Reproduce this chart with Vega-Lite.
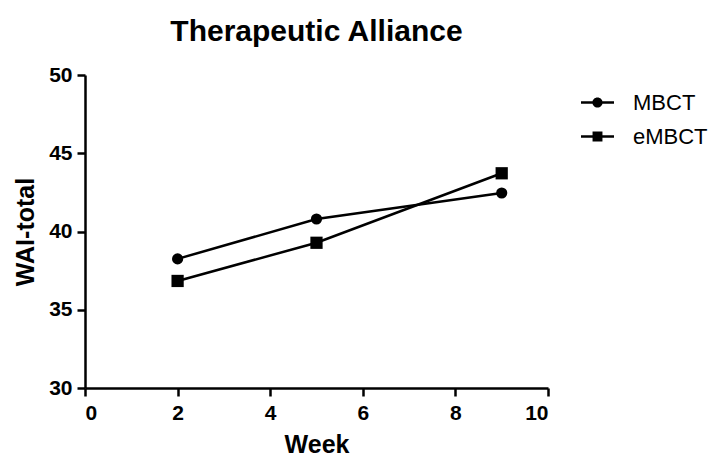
{
  "$schema": "https://vega.github.io/schema/vega-lite/v6.json",
  "autosize": {"type": "none"},
  "padding": {"left": 85, "top": 75, "right": 169, "bottom": 68},
  "width": 463,
  "height": 313,
  "background": "white",
  "title": {"text": "Therapeutic Alliance", "font": "Liberation Sans", "fontSize": 30, "fontWeight": "bold", "color": "black", "anchor": "middle", "offset": 17},
  "data": {"values": [
    {"group": "MBCT", "week": 2, "wai": 38.25},
    {"group": "MBCT", "week": 5, "wai": 40.8},
    {"group": "MBCT", "week": 9, "wai": 42.46},
    {"group": "eMBCT", "week": 2, "wai": 36.84},
    {"group": "eMBCT", "week": 5, "wai": 39.28},
    {"group": "eMBCT", "week": 9, "wai": 43.72}
  ]},
  "config": {
    "view": {"stroke": null},
    "axis": {"grid": false, "domainColor": "black", "domainWidth": 2.5, "tickColor": "black", "tickWidth": 2.5, "tickSize": 8,
      "labelFont": "Liberation Sans", "labelFontSize": 21, "labelFontWeight": "bold", "labelColor": "black",
      "titleFont": "Liberation Sans", "titleFontSize": 25, "titleFontWeight": "bold", "titleColor": "black"}
  },
  "encoding": {
    "x": {"field": "week", "type": "quantitative", "scale": {"domain": [0, 10], "nice": false}, "axis": {"title": "Week", "values": [0, 2, 4, 6, 8, 10], "labelPadding": 6, "titlePadding": 9}},
    "y": {"field": "wai", "type": "quantitative", "scale": {"domain": [30, 50], "nice": false, "zero": false}, "axis": {"title": "WAI-total", "values": [30, 35, 40, 45, 50], "labelPadding": 5, "titlePadding": 10}}
  },
  "resolve": {"scale": {"shape": "independent"}, "legend": {"shape": "independent"}},
  "layer": [
    {"mark": {"type": "line", "color": "black", "strokeWidth": 2.5}, "encoding": {"detail": {"field": "group"}}},
    {"mark": {"type": "point", "filled": true, "color": "black", "opacity": 1},
     "encoding": {
       "shape": {"field": "group", "type": "nominal", "scale": {"domain": ["MBCT", "eMBCT"], "range": ["circle", "square"]}, "legend": null},
       "size": {"condition": {"test": "datum.group === 'MBCT'", "value": 125}, "value": 150}
     }},
    {"mark": {"type": "point", "filled": true, "color": "black", "opacity": 0, "size": 1089},
     "encoding": {
       "shape": {"field": "group", "type": "nominal", "scale": {"domain": ["MBCT", "eMBCT"], "range": ["M-1,-0.075H1V0.075H-1ZM0.31,0A0.31,0.31 0 1 1 -0.31,0A0.31,0.31 0 1 1 0.31,0Z", "M-1,-0.075H1V0.075H-1ZM-0.3,-0.3H0.3V0.3H-0.3Z"]},
         "legend": {"title": null, "orient": "none", "legendX": 496, "legendY": 11, "symbolSize": 1089, "symbolOpacity": 1, "symbolFillColor": "black", "symbolStrokeColor": "black", "symbolStrokeWidth": 0, "labelFont": "Liberation Sans", "labelFontSize": 22, "labelColor": "black", "labelOffset": 19, "rowPadding": 6}}
     }}
  ]
}
